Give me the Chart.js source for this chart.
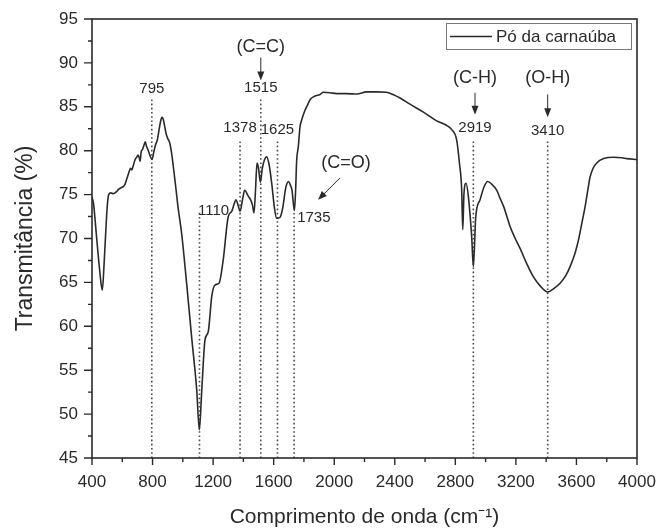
<!DOCTYPE html>
<html>
<head>
<meta charset="utf-8">
<script src="https://cdn.jsdelivr.net/npm/chart.js@4.4.0/dist/chart.umd.min.js"></script>
<style>
  body { margin: 0; background: #fff; }
  #wrap { width: 659px; height: 530px; }
</style>
</head>
<body>
<div id="wrap"><canvas id="ftir" width="659" height="530"></canvas></div>
<script>
// FTIR spectrum values
const wavenumber = [
  400, 410, 428, 450, 468, 478, 488, 500, 510, 525, 540, 560, 575, 594, 606, 616,
  630, 645, 655, 663, 671, 685, 697, 704, 712, 718, 724, 735, 745, 752, 760, 770,
  782, 796, 810, 822, 831, 845, 855, 862, 870, 880, 890, 900, 913, 925, 940, 955,
  968, 992, 1025, 1058, 1092, 1109, 1125, 1146, 1168, 1191, 1212, 1239, 1267, 1300,
  1323, 1340, 1351, 1365, 1378, 1395, 1408, 1433, 1448, 1460, 1470, 1480, 1490, 1500,
  1512, 1525, 1540, 1554, 1570, 1587, 1605, 1620, 1642, 1660, 1680, 1699, 1712, 1721,
  1730, 1737, 1745, 1752, 1763, 1774, 1785, 1807, 1829, 1840, 1870, 1906, 1928, 1972,
  2016, 2080, 2149, 2215, 2280, 2347, 2400, 2435, 2500, 2589, 2677, 2740, 2776, 2809,
  2827, 2842, 2849, 2857, 2871, 2886, 2908, 2919, 2935, 2963, 2990, 3014, 3040, 3073,
  3095, 3120, 3139, 3161, 3190, 3227, 3270, 3315, 3360, 3410, 3450, 3492, 3530, 3558,
  3590, 3613, 3635, 3657, 3675, 3690, 3710, 3734, 3780, 3844, 3900, 3932, 4000
];
const transmittance = [
  74.7, 74.0, 70.6, 66.5, 64.1, 66.5, 69.8, 73.5, 75.0, 75.2, 75.1, 75.3, 75.6, 75.8, 75.9, 76.1,
  76.8, 77.6, 78.0, 77.8, 78.2, 79.0, 79.3, 79.5, 79.2, 78.8, 79.8, 80.2, 80.7, 81.0, 80.5, 80.1,
  79.5, 79.0, 80.0, 80.8, 81.2, 82.6, 83.5, 83.8, 83.6, 82.8, 81.9, 81.4, 80.9, 79.8, 77.8, 75.6,
  73.6, 70.6, 64.9, 58.8, 52.7, 48.2, 52.7, 58.4, 59.4, 63.4, 64.7, 64.9, 67.6, 72.5,
  73.1, 74.0, 74.4, 73.8, 73.1, 74.5, 75.5, 74.8, 74.4, 73.8, 72.9, 75.5, 78.6, 78.0,
  76.4, 78.0, 79.0, 79.3, 78.4, 76.3, 73.5, 72.3, 72.4, 73.5, 75.8, 76.5, 76.0, 75.5,
  74.0, 73.2, 75.5, 78.9, 80.5, 82.7, 83.5, 84.6, 85.4, 85.8, 86.2, 86.4, 86.65, 86.6,
  86.5, 86.5, 86.45, 86.7, 86.7, 86.65, 86.3, 86.0, 85.3, 84.4, 83.4, 82.9, 82.4, 81.2,
  78.6, 75.5, 71.0, 75.1, 76.3, 74.8, 70.2, 66.8, 72.5, 74.4, 75.9, 76.5, 76.2, 75.5,
  74.6, 73.6, 72.6, 71.4, 70.2, 68.9, 67.2, 65.65, 64.6, 63.9, 64.3, 64.9, 65.8, 66.8,
  68.3, 69.8, 71.7, 73.6, 75.5, 77.0, 78.0, 78.6, 79.1, 79.25, 79.2, 79.1, 79.0
];

// marked bands and the transmittance where each dotted guide stops
const peakBands = [795, 1110, 1378, 1515, 1625, 1735, 2919, 3410];
const peakLineTop = [86.1, 73.1, 81.2, 86.1, 81.2, 72.9, 81.2, 81.2];

const xMin = 400, xMax = 4000, xStep = 400;
const yMin = 45, yMax = 95, yStep = 5;

const FONT = '"Liberation Sans", Arial, sans-serif';
const INK = '#2a2a2a';

const spectrum = wavenumber.map((x, i) => ({ x: x, y: transmittance[i] }));

const guideSets = peakBands.map((band, i) => ({
  label: 'band ' + band,
  data: [{ x: band, y: yMin }, { x: band, y: peakLineTop[i] }],
  borderColor: '#4a4a4a',
  borderWidth: 1.6,
  borderDash: [1.6, 2.6],
  pointRadius: 0,
  fill: false
}));

function arrow(ctx, x1, y1, x2, y2) {
  const ang = Math.atan2(y2 - y1, x2 - x1);
  const len = 9, half = 3.5;
  ctx.beginPath();
  ctx.moveTo(x1, y1);
  ctx.lineTo(x2 - Math.cos(ang) * len * 0.8, y2 - Math.sin(ang) * len * 0.8);
  ctx.stroke();
  ctx.beginPath();
  ctx.moveTo(x2, y2);
  ctx.lineTo(x2 - Math.cos(ang) * len - Math.sin(ang) * half, y2 - Math.sin(ang) * len + Math.cos(ang) * half);
  ctx.lineTo(x2 - Math.cos(ang) * len + Math.sin(ang) * half, y2 - Math.sin(ang) * len - Math.cos(ang) * half);
  ctx.closePath();
  ctx.fill();
}

// frame, minor/major tick marks, band labels, arrows and the boxed legend
const decorations = {
  id: 'decorations',
  afterDraw(chart) {
    const { ctx, chartArea: a, scales: { x, y } } = chart;
    ctx.save();
    ctx.strokeStyle = INK;
    ctx.fillStyle = INK;

    ctx.lineWidth = 1.6;
    ctx.strokeRect(a.left, a.top, a.right - a.left, a.bottom - a.top);

    ctx.lineWidth = 1.4;
    ctx.beginPath();
    for (let v = xMin; v <= xMax; v += xStep / 2) {
      const px = x.getPixelForValue(v);
      const len = (v - xMin) % xStep === 0 ? 7 : 4;
      ctx.moveTo(px, a.bottom);
      ctx.lineTo(px, a.bottom + len);
    }
    for (let v = yMin; v <= yMax; v += yStep / 2) {
      const py = y.getPixelForValue(v);
      const len = (v - yMin) % yStep === 0 ? 8 : 4;
      ctx.moveTo(a.left, py);
      ctx.lineTo(a.left - len, py);
    }
    ctx.stroke();

    // band numbers
    ctx.font = '15px ' + FONT;
    ctx.textBaseline = 'middle';
    const bandText = [
      { t: '795', x: 795, y: 87.1, al: 'center' },
      { t: '1110', x: 1100, y: 73.1, al: 'left' },
      { t: '1378', x: 1378, y: 82.6, al: 'center' },
      { t: '1515', x: 1515, y: 87.2, al: 'center' },
      { t: '1625', x: 1625, y: 82.4, al: 'center' },
      { t: '1735', x: 1755, y: 72.3, al: 'left' },
      { t: '2919', x: 2930, y: 82.6, al: 'center' },
      { t: '3410', x: 3410, y: 82.3, al: 'center' }
    ];
    bandText.forEach(b => {
      ctx.textAlign = b.al;
      ctx.fillText(b.t, x.getPixelForValue(b.x), y.getPixelForValue(b.y));
    });

    // bond assignments
    ctx.font = '18px ' + FONT;
    ctx.textAlign = 'center';
    const bonds = [
      { t: '(C=C)', x: 1515, y: 91.8, ax: 1515, ay1: 90.6, ax2: 1515, ay2: 88.0 },
      { t: '(C=O)', x: 2078, y: 78.6, ax: 2038, ay1: 76.9, ax2: 1893, ay2: 74.4 },
      { t: '(C-H)', x: 2930, y: 88.3, ax: 2930, ay1: 86.6, ax2: 2930, ay2: 84.1 },
      { t: '(O-H)', x: 3410, y: 88.3, ax: 3410, ay1: 86.4, ax2: 3410, ay2: 83.8 }
    ];
    ctx.lineWidth = 1;
    bonds.forEach(b => {
      ctx.fillText(b.t, x.getPixelForValue(b.x), y.getPixelForValue(b.y));
      arrow(ctx, x.getPixelForValue(b.ax), y.getPixelForValue(b.ay1),
        x.getPixelForValue(b.ax2), y.getPixelForValue(b.ay2));
    });

    // legend box
    const bw = 185, bh = 26;
    const bx = a.right - 6 - bw, by = a.top + 4;
    ctx.strokeStyle = '#777';
    ctx.lineWidth = 1;
    ctx.strokeRect(bx + 0.5, by + 0.5, bw, bh);
    ctx.strokeStyle = INK;
    ctx.lineWidth = 1.5;
    ctx.beginPath();
    ctx.moveTo(bx + 4, by + bh / 2 + 0.5);
    ctx.lineTo(bx + 46, by + bh / 2 + 0.5);
    ctx.stroke();
    ctx.font = '17px ' + FONT;
    ctx.textAlign = 'left';
    ctx.fillText(chart.data.datasets[0].label, bx + 50, by + bh / 2 + 1);
    ctx.restore();
  }
};

new Chart(document.getElementById('ftir'), {
  type: 'line',
  data: {
    datasets: [{
      label: 'Pó da carnaúba',
      data: spectrum,
      borderColor: INK,
      borderWidth: 1.6,
      pointRadius: 0,
      cubicInterpolationMode: 'monotone',
      fill: false
    }].concat(guideSets)
  },
  options: {
    responsive: false,
    animation: false,
    events: [],
    layout: { padding: { top: 19, right: 22, left: 0, bottom: 0 } },
    plugins: {
      legend: { display: false },
      tooltip: { enabled: false }
    },
    scales: {
      x: {
        type: 'linear',
        min: xMin,
        max: xMax,
        afterFit: scale => {
          scale.height = 72;
          scale.paddingLeft = 0;
          scale.paddingRight = 0;
        },
        grid: { display: false, drawTicks: false },
        border: { display: false },
        ticks: {
          stepSize: xStep,
          autoSkip: false,
          maxRotation: 0,
          padding: 14,
          color: INK,
          font: { family: FONT, size: 17 },
          callback: v => String(v)
        },
        title: {
          display: true,
          text: 'Comprimento de onda (cm⁻¹)',
          color: INK,
          padding: { top: 0, bottom: 0 },
          font: { family: FONT, size: 21 }
        }
      },
      y: {
        min: yMin,
        max: yMax,
        afterFit: scale => {
          scale.width = 92;
          scale.paddingTop = 0;
          scale.paddingBottom = 0;
        },
        grid: { display: false, drawTicks: false },
        border: { display: false },
        ticks: {
          stepSize: yStep,
          padding: 14,
          color: INK,
          font: { family: FONT, size: 17 },
          callback: v => String(v)
        },
        title: {
          display: true,
          text: 'Transmitância (%)',
          color: INK,
          padding: { top: 12, bottom: 0 },
          font: { family: FONT, size: 23 }
        }
      }
    }
  },
  plugins: [decorations]
});
</script>
</body>
</html>
